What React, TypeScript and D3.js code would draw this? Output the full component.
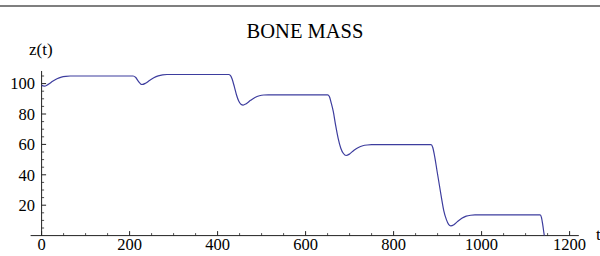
import React from "react";
import * as d3 from "d3";

const tValues = [
  0, 6, 15, 25, 35, 45, 55, 65, 208, 214, 220, 228, 236, 245, 255, 265, 275, 285,
  425, 429, 433, 438, 443, 448, 453, 458, 465, 475, 485, 495, 505, 515,
  650, 654, 658, 663, 668, 674, 680, 686, 692, 700, 710, 720, 730, 740, 750,
  885, 889, 894, 899, 904, 909, 914, 920, 925, 930, 937, 945, 955, 965, 975, 985,
  1133, 1136, 1139, 1142, 1145,
];
const zValues = [
  98.8, 98.3, 99.5, 101.5, 103.2, 104.3, 104.8, 105.0, 105.0, 104.0, 101.5, 99.4, 100.2, 102.0, 103.8, 105.1, 105.8, 106.0,
  106.0, 105.4, 103.0, 98.0, 92.5, 88.5, 86.4, 85.9, 86.8, 89.0, 90.9, 92.0, 92.5, 92.6,
  92.6, 91.5, 87.5, 81.5, 73.0, 64.0, 57.5, 54.0, 52.7, 53.7, 56.2, 58.0, 59.1, 59.6, 59.8,
  59.8, 58.0, 51.0, 42.0, 33.3, 24.5, 16.5, 10.5, 7.4, 6.4, 7.2, 9.2, 11.4, 12.8, 13.4, 13.6,
  13.6, 12.0, 7.0, 1.0, -4.0,
];
const xMajorTicks = [0, 200, 400, 600, 800, 1000, 1200];
const yMajorTicks = [20, 40, 60, 80, 100];
const title = "BONE MASS";
const xLabel = "t";
const yLabel = "z(t)";

export default function App() {
  const W = 600, H = 256;
  const x = d3.scaleLinear().domain([0, 1200]).range([41.6, 569.6]);
  const y = d3.scaleLinear().domain([0, 100]).range([235.6, 83.6]);
  const xMin = -25, xMax = 1221, yMax = 108.3;
  const data = tValues.map((t, i) => [t, zValues[i]] as [number, number]);
  const line = d3
    .line<[number, number]>()
    .x((d) => x(d[0]))
    .y((d) => y(d[1]))
    .curve(d3.curveMonotoneX);

  const xMinor = d3.range(0, xMax + 1, 50).filter((v) => !xMajorTicks.includes(v));
  const yMinor = d3.range(5, yMax, 5).filter((v) => !yMajorTicks.includes(v));
  const font = "Liberation Serif, Times New Roman, serif";
  const axisColor = "#222";

  return (
    <svg
      width={W}
      height={H}
      style={{ position: "absolute", left: 0, top: 0, background: "#fff" }}
    >
      <defs>
        <clipPath id="plotclip">
          <rect x={x(xMin)} y={y(yMax)} width={x(xMax) - x(xMin)} height={y(0) - y(yMax)} />
        </clipPath>
      </defs>
      <g fontFamily={font} fill="#000">
        <line x1={0} x2={W} y1={6} y2={6} stroke="#555" strokeWidth={1.3} />
        <text x={305} y={37.5} fontSize={20.5} textAnchor="middle">
          {title}
        </text>
        <text x={29} y={55} fontSize={17}>
          {yLabel}
        </text>
        <text x={596} y={240} fontSize={17}>
          {xLabel}
        </text>
        <line x1={x(xMin)} x2={x(xMax)} y1={y(0)} y2={y(0)} stroke={axisColor} strokeWidth={1} />
        <line x1={x(0)} x2={x(0)} y1={y(0)} y2={y(yMax)} stroke={axisColor} strokeWidth={1} />
        {xMajorTicks.map((v) => (
          <g key={"xt" + v}>
            <line x1={x(v)} x2={x(v)} y1={y(0)} y2={y(0) - 4.5} stroke={axisColor} strokeWidth={1} />
            <text x={x(v)} y={249.5} fontSize={16.5} textAnchor="middle">
              {v}
            </text>
          </g>
        ))}
        {xMinor.map((v) => (
          <line key={"xm" + v} x1={x(v)} x2={x(v)} y1={y(0)} y2={y(0) - 2.5} stroke={axisColor} strokeWidth={0.8} />
        ))}
        {yMajorTicks.map((v) => (
          <g key={"yt" + v}>
            <line x1={x(0)} x2={x(0) + 4.5} y1={y(v)} y2={y(v)} stroke={axisColor} strokeWidth={1} />
            <text x={35} y={y(v) + 5.7} fontSize={16.5} textAnchor="end">
              {v}
            </text>
          </g>
        ))}
        {yMinor.map((v) => (
          <line key={"ym" + v} x1={x(0)} x2={x(0) + 2.5} y1={y(v)} y2={y(v)} stroke={axisColor} strokeWidth={0.8} />
        ))}
      </g>
      <path
        d={line(data) || ""}
        fill="none"
        stroke="#3d3d9e"
        strokeWidth={1.2}
        clipPath="url(#plotclip)"
      />
    </svg>
  );
}
